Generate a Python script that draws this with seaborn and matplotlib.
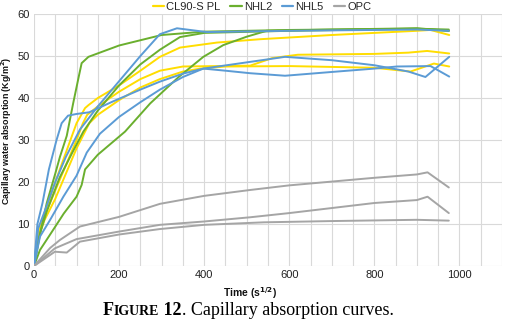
import matplotlib
matplotlib.use("Agg")
import matplotlib.pyplot as plt
from matplotlib.lines import Line2D
from matplotlib.ticker import MultipleLocator
import seaborn as sns
import pandas as pd

# ---------------- data (time in s^1/2, absorption in kg/m2) ----------------
materials = ["CL90-S PL", "NHL2", "NHL5", "OPC"]
colors = ["#FFDD00", "#6AAF2E", "#5B9BD5", "#A5A5A5"]

cl90_a_t = [0, 10, 30, 50, 75, 100, 120, 128, 150, 200, 250, 296, 343, 430, 532, 700, 900, 932, 976]
cl90_a_y = [0, 8, 14, 20, 27, 34, 37.6, 38.3, 40, 43, 46.5, 49.8, 52.0, 53.2, 54.0, 55.0, 56.0, 56.2, 55.0]
cl90_b_t = [0, 10, 25, 50, 75, 100, 115, 125, 150, 200, 250, 296, 350, 430, 508, 560, 620, 800, 880, 924, 976]
cl90_b_y = [0, 8, 12, 18, 24, 30, 34, 36, 38, 41.5, 44.5, 46.5, 47.5, 47.6, 47.7, 49.5, 50.3, 50.5, 50.8, 51.2, 50.6]
cl90_c_t = [0, 10, 25, 50, 75, 100, 130, 150, 200, 250, 296, 350, 391, 450, 600, 800, 885, 940, 976]
cl90_c_y = [0, 7, 11, 16, 22, 28, 34, 36, 39.5, 42.5, 44.5, 46.3, 47.0, 47.5, 47.6, 47.2, 46.3, 48.2, 47.5]

nhl2_a_t = [0, 15, 30, 50, 61, 77, 92, 105, 112, 128, 200, 300, 400, 600, 900, 975]
nhl2_a_y = [0, 8, 15, 22, 26, 31, 38.7, 45, 48.3, 49.8, 52.5, 55.0, 55.8, 56.2, 56.5, 56.0]
nhl2_b_t = [0, 12, 30, 60, 90, 116, 150, 200, 250, 296, 343, 400, 600, 900, 975]
nhl2_b_y = [0, 7, 13, 21, 27, 32, 37, 43, 48, 51.5, 54.5, 55.5, 56.0, 56.5, 56.3]
nhl2_c_t = [0, 14, 45, 70, 100, 112, 120, 150, 214, 273, 340, 398, 445, 500, 547, 700, 900, 975]
nhl2_c_y = [0, 3.8, 8.6, 12.5, 16.5, 19.3, 23.0, 26.5, 32.0, 38.7, 45.0, 49.8, 52.6, 54.6, 56.0, 56.3, 56.6, 56.0]

nhl5_a_t = [0, 10, 25, 50, 75, 108, 150, 200, 250, 296, 336, 406, 600, 900, 975]
nhl5_a_y = [0, 9, 13, 20, 26, 32.5, 38, 44, 50, 55.2, 56.6, 55.7, 56.0, 56.3, 56.0]
nhl5_b_t = [0, 8, 20, 35, 53, 65, 80, 100, 130, 186, 250, 296, 350, 398, 508, 590, 700, 800, 880, 920, 976]
nhl5_b_y = [0, 10, 15, 23, 30, 34, 35.8, 36.2, 36.6, 39.2, 42, 43.9, 45.8, 47.0, 48.6, 49.8, 49.0, 47.8, 46.3, 45.0, 49.8]
nhl5_c_t = [0, 14, 38, 69, 100, 124, 155, 200, 250, 296, 350, 398, 450, 508, 590, 700, 800, 853, 932, 976]
nhl5_c_y = [0, 7, 11, 16.5, 21.5, 27, 31.5, 35.5, 39, 42, 45, 47, 46.5, 45.9, 45.3, 46.2, 47.0, 47.5, 47.6, 45.1]

opc_a_t = [0, 38, 61, 108, 200, 296, 400, 508, 600, 800, 900, 925, 975]
opc_a_y = [0, 4.3, 6.2, 9.4, 11.7, 14.8, 16.7, 18.1, 19.2, 21.0, 21.8, 22.3, 18.7]
opc_b_t = [0, 49, 100, 200, 296, 400, 508, 600, 800, 900, 925, 975]
opc_b_y = [0, 4.2, 6.4, 8.2, 9.8, 10.6, 11.6, 12.6, 15.0, 15.7, 16.5, 12.6]
opc_c_t = [0, 49, 77, 108, 200, 296, 400, 540, 700, 900, 975]
opc_c_y = [0, 3.4, 3.2, 5.8, 7.5, 8.8, 9.8, 10.4, 10.7, 11.0, 10.8]

series = [
    ("CL90-S PL", "cl90_a", cl90_a_t, cl90_a_y),
    ("CL90-S PL", "cl90_b", cl90_b_t, cl90_b_y),
    ("CL90-S PL", "cl90_c", cl90_c_t, cl90_c_y),
    ("NHL2", "nhl2_a", nhl2_a_t, nhl2_a_y),
    ("NHL2", "nhl2_b", nhl2_b_t, nhl2_b_y),
    ("NHL2", "nhl2_c", nhl2_c_t, nhl2_c_y),
    ("NHL5", "nhl5_a", nhl5_a_t, nhl5_a_y),
    ("NHL5", "nhl5_b", nhl5_b_t, nhl5_b_y),
    ("NHL5", "nhl5_c", nhl5_c_t, nhl5_c_y),
    ("OPC", "opc_a", opc_a_t, opc_a_y),
    ("OPC", "opc_b", opc_b_t, opc_b_y),
    ("OPC", "opc_c", opc_c_t, opc_c_y),
]

rows = []
for mat, spec, ts, ys in series:
    for i, (t, y) in enumerate(zip(ts, ys)):
        rows.append({"material": mat, "specimen": spec, "order": i, "time": t, "abs": y})
df = pd.DataFrame(rows)

# ---------------- figure ----------------
sns.set_theme(style="white")
plt.rcParams["font.family"] = ["Liberation Sans", "DejaVu Sans"]

fig = plt.figure(figsize=(5.06, 3.23), dpi=100)
ax = fig.add_axes([34 / 506, 1 - 266 / 323, (502 - 34) / 506, (266 - 14) / 323])

palette = dict(zip(materials, colors))
sns.lineplot(data=df, x="time", y="abs", hue="material", units="specimen",
             estimator=None, sort=False, palette=palette, lw=1.4, ax=ax,
             legend=False)

ax.set_xlim(0, 1100)
ax.set_ylim(0, 60)
ax.xaxis.set_major_locator(MultipleLocator(200))
ax.xaxis.set_minor_locator(MultipleLocator(50))
ax.yaxis.set_major_locator(MultipleLocator(10))
ax.grid(True, which="both", axis="x", color="#D9D9D9", lw=0.8)
ax.grid(True, which="major", axis="y", color="#D9D9D9", lw=0.8)
ax.set_axisbelow(True)
for s in ax.spines.values():
    s.set_visible(False)
ax.tick_params(axis="both", which="both", length=0, labelsize=8, colors="#222222", pad=3)

ax.set_ylabel("Capillary water absorption (Kg/m$^\\mathbf{2}$)", fontsize=6.4,
              fontweight="bold", color="#111111")
ax.yaxis.set_label_coords((14 - 34) / 468, (266 - 131) / 252)
ax.set_xlabel("Time (s$^\\mathbf{1/2}$)", fontsize=7.5, fontweight="bold", color="#111111")
ax.xaxis.set_label_coords((250 - 34) / 468, -19 / 252)

handles = [Line2D([0], [0], color=c, lw=1.6) for c in colors]
fig.legend(handles, materials, loc="center", bbox_to_anchor=(262 / 506, 1 - 7 / 323),
           ncol=4, frameon=False, fontsize=8, handlelength=1.0, handletextpad=0.2,
           columnspacing=0.9, borderaxespad=0)

# ---------------- caption ----------------
fig.canvas.draw()
renderer = fig.canvas.get_renderer()
pieces = [("F", 13, "bold"), ("IGURE", 10, "bold"), (" 12", 13, "bold"),
          (". Capillary absorption curves.", 13, "normal")]
x_px = 103
base = 1 - 315 / 323
for txt, fs, fw in pieces:
    t = fig.text(x_px / 506, base, txt, fontsize=fs, fontweight=fw,
                 family=["Liberation Serif", "DejaVu Serif"], va="baseline", ha="left", color="black")
    bb = t.get_window_extent(renderer)
    x_px = bb.x1

fig.savefig("out.png", dpi=100)
